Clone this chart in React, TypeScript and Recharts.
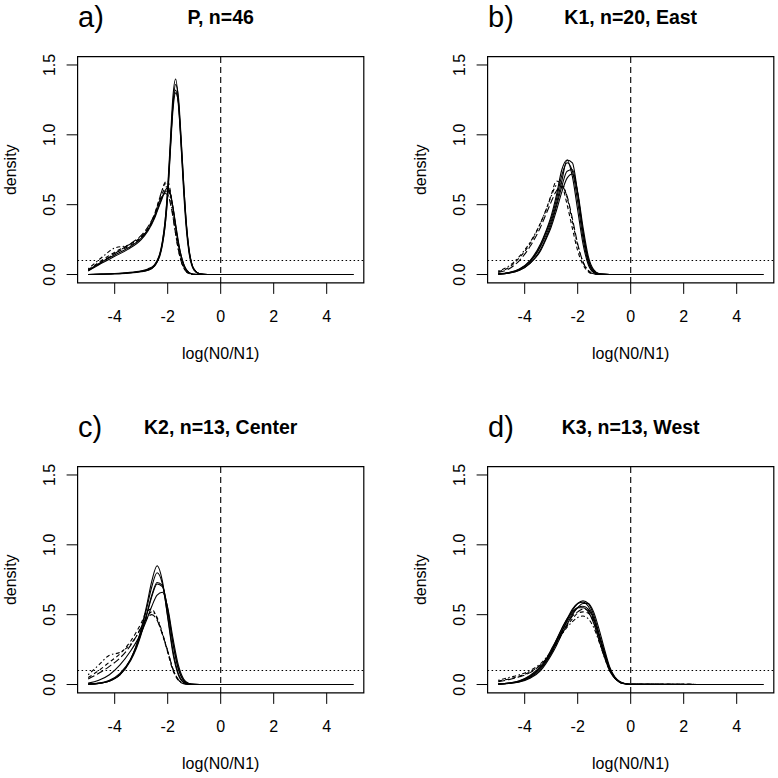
import {
  LineChart,
  Line,
  XAxis,
  YAxis,
  ReferenceLine,
  ReferenceArea,
} from "recharts";

// x grids (log(N0/N1)) -- finer grid for panel a because of the sharp peak
const xsA = [-5, -4.5, -4, -3.5, -3, -2.75, -2.5, -2.4, -2.3, -2.2, -2.1, -2.0, -1.9, -1.8, -1.7, -1.6, -1.5, -1.4, -1.3, -1.2, -1.1, -1.0, -0.8, -0.5, 0, 5];
const xsG = [-5, -4.6, -4.2, -3.8, -3.4, -3.2, -3.0, -2.8, -2.6, -2.4, -2.2, -2.0, -1.8, -1.6, -1.4, -1.2, -1.0, -0.8, -0.6, -0.4, -0.2, 0, 5];

// panel a: P, n=46
const aT1 = [0, 0.002, 0.005, 0.01, 0.02, 0.03, 0.06, 0.09, 0.14, 0.23, 0.38, 0.62, 0.96, 1.28, 1.4, 1.25, 0.94, 0.6, 0.33, 0.16, 0.07, 0.03, 0.005, 0, 0, 0];
const aT2 = [0, 0.003, 0.006, 0.012, 0.024, 0.035, 0.065, 0.095, 0.14, 0.22, 0.35, 0.57, 0.9, 1.22, 1.36, 1.28, 1.0, 0.66, 0.37, 0.18, 0.08, 0.035, 0.006, 0, 0, 0];
const aT3 = [0, 0.003, 0.007, 0.014, 0.027, 0.04, 0.07, 0.1, 0.15, 0.24, 0.38, 0.6, 0.92, 1.22, 1.32, 1.22, 0.95, 0.63, 0.36, 0.18, 0.08, 0.035, 0.006, 0, 0, 0];
const aT4 = [0, 0.002, 0.005, 0.011, 0.022, 0.032, 0.06, 0.09, 0.13, 0.21, 0.34, 0.56, 0.88, 1.18, 1.3, 1.24, 0.98, 0.66, 0.38, 0.19, 0.085, 0.035, 0.006, 0, 0, 0];
const aS1 = [0.03, 0.09, 0.14, 0.19, 0.26, 0.32, 0.41, 0.46, 0.51, 0.56, 0.59, 0.6, 0.57, 0.48, 0.36, 0.24, 0.14, 0.075, 0.035, 0.015, 0.005, 0.002, 0, 0, 0, 0];
const aS2 = [0.025, 0.08, 0.13, 0.18, 0.25, 0.31, 0.4, 0.45, 0.5, 0.55, 0.6, 0.62, 0.58, 0.48, 0.35, 0.23, 0.14, 0.075, 0.035, 0.015, 0.005, 0.002, 0, 0, 0, 0];
const aD1 = [0.035, 0.1, 0.16, 0.21, 0.27, 0.33, 0.43, 0.49, 0.55, 0.61, 0.66, 0.67, 0.6, 0.47, 0.33, 0.21, 0.12, 0.06, 0.025, 0.01, 0.003, 0.001, 0, 0, 0, 0];
const aD2 = [0.04, 0.12, 0.19, 0.21, 0.27, 0.32, 0.42, 0.48, 0.55, 0.61, 0.65, 0.63, 0.55, 0.42, 0.29, 0.18, 0.1, 0.05, 0.02, 0.008, 0.002, 0, 0, 0, 0, 0];
const aD3 = [0.03, 0.09, 0.15, 0.2, 0.26, 0.32, 0.42, 0.47, 0.53, 0.58, 0.62, 0.63, 0.58, 0.47, 0.34, 0.22, 0.13, 0.07, 0.03, 0.012, 0.004, 0.001, 0, 0, 0, 0];
const aD4 = [0.03, 0.085, 0.15, 0.21, 0.28, 0.34, 0.43, 0.48, 0.53, 0.56, 0.58, 0.57, 0.51, 0.41, 0.29, 0.18, 0.1, 0.05, 0.02, 0.008, 0.002, 0, 0, 0, 0, 0];

// panel b: K1, n=20, East
const bS1 = [0.004, 0.012, 0.035, 0.09, 0.2, 0.28, 0.38, 0.51, 0.67, 0.82, 0.8, 0.58, 0.3, 0.1, 0.025, 0.005, 0.001, 0, 0, 0, 0, 0, 0];
const bS2 = [0.005, 0.015, 0.04, 0.1, 0.22, 0.31, 0.42, 0.57, 0.75, 0.82, 0.7, 0.46, 0.22, 0.07, 0.015, 0.003, 0.001, 0, 0, 0, 0, 0, 0];
const bS3 = [0.004, 0.013, 0.037, 0.095, 0.21, 0.3, 0.4, 0.54, 0.71, 0.8, 0.74, 0.52, 0.26, 0.085, 0.02, 0.004, 0.001, 0, 0, 0, 0, 0, 0];
const bS4 = [0.003, 0.01, 0.03, 0.08, 0.18, 0.26, 0.36, 0.49, 0.63, 0.74, 0.75, 0.58, 0.31, 0.11, 0.028, 0.005, 0.001, 0, 0, 0, 0, 0, 0];
const bS5 = [0.003, 0.01, 0.03, 0.08, 0.17, 0.25, 0.34, 0.46, 0.59, 0.69, 0.72, 0.59, 0.34, 0.13, 0.035, 0.007, 0.001, 0, 0, 0, 0, 0, 0];
const bD1 = [0.02, 0.05, 0.12, 0.22, 0.37, 0.46, 0.57, 0.67, 0.64, 0.5, 0.33, 0.17, 0.07, 0.02, 0.004, 0.001, 0, 0, 0, 0, 0, 0, 0];
const bD2 = [0.025, 0.06, 0.13, 0.23, 0.37, 0.46, 0.56, 0.64, 0.65, 0.55, 0.38, 0.21, 0.09, 0.03, 0.007, 0.001, 0, 0, 0, 0, 0, 0, 0];
const bD3 = [0.015, 0.04, 0.1, 0.2, 0.34, 0.43, 0.52, 0.6, 0.63, 0.56, 0.4, 0.22, 0.09, 0.025, 0.005, 0.001, 0, 0, 0, 0, 0, 0, 0];

// panel c: K2, n=13, Center
const cS1 = [0.003, 0.008, 0.025, 0.07, 0.18, 0.27, 0.4, 0.56, 0.74, 0.85, 0.74, 0.48, 0.22, 0.07, 0.015, 0.003, 0, 0, 0, 0, 0, 0, 0];
const cS2 = [0.003, 0.008, 0.025, 0.07, 0.18, 0.27, 0.39, 0.54, 0.7, 0.8, 0.72, 0.49, 0.24, 0.08, 0.018, 0.003, 0, 0, 0, 0, 0, 0, 0];
const cS3 = [0.003, 0.01, 0.03, 0.08, 0.18, 0.26, 0.37, 0.5, 0.64, 0.73, 0.71, 0.53, 0.29, 0.11, 0.03, 0.005, 0.001, 0, 0, 0, 0, 0, 0];
const cS4 = [0.002, 0.008, 0.025, 0.07, 0.17, 0.25, 0.36, 0.49, 0.63, 0.72, 0.7, 0.54, 0.3, 0.12, 0.03, 0.006, 0.001, 0, 0, 0, 0, 0, 0];
const cS5 = [0.01, 0.03, 0.07, 0.14, 0.24, 0.3, 0.37, 0.46, 0.56, 0.64, 0.66, 0.55, 0.33, 0.14, 0.04, 0.008, 0.001, 0, 0, 0, 0, 0, 0];
const cD1 = [0.05, 0.1, 0.16, 0.22, 0.31, 0.37, 0.44, 0.52, 0.54, 0.47, 0.36, 0.23, 0.1, 0.03, 0.006, 0.001, 0, 0, 0, 0, 0, 0, 0];
const cD2 = [0.07, 0.14, 0.21, 0.23, 0.29, 0.34, 0.41, 0.48, 0.52, 0.48, 0.37, 0.24, 0.11, 0.035, 0.008, 0.001, 0, 0, 0, 0, 0, 0, 0];
const cD3 = [0.04, 0.08, 0.13, 0.19, 0.28, 0.34, 0.41, 0.47, 0.5, 0.46, 0.36, 0.24, 0.11, 0.035, 0.008, 0.001, 0, 0, 0, 0, 0, 0, 0];

// panel d: K3, n=13, West
const dS1 = [0.003, 0.008, 0.02, 0.05, 0.11, 0.16, 0.22, 0.3, 0.38, 0.46, 0.53, 0.58, 0.6, 0.58, 0.5, 0.37, 0.24, 0.12, 0.05, 0.018, 0.006, 0.002, 0];
const dS2 = [0.003, 0.007, 0.018, 0.045, 0.1, 0.15, 0.21, 0.28, 0.36, 0.43, 0.5, 0.55, 0.58, 0.58, 0.52, 0.4, 0.26, 0.13, 0.055, 0.02, 0.006, 0.002, 0];
const dS3 = [0.004, 0.01, 0.025, 0.06, 0.12, 0.17, 0.23, 0.31, 0.38, 0.45, 0.51, 0.55, 0.56, 0.54, 0.47, 0.35, 0.23, 0.115, 0.05, 0.017, 0.005, 0.002, 0];
const dS4 = [0.004, 0.01, 0.027, 0.065, 0.13, 0.18, 0.25, 0.32, 0.4, 0.47, 0.52, 0.55, 0.55, 0.52, 0.44, 0.32, 0.2, 0.1, 0.045, 0.015, 0.005, 0.002, 0];
const dS5 = [0.003, 0.009, 0.022, 0.055, 0.12, 0.17, 0.24, 0.32, 0.4, 0.47, 0.54, 0.58, 0.59, 0.56, 0.48, 0.35, 0.22, 0.11, 0.045, 0.015, 0.005, 0.001, 0];
const dD1 = [0.025, 0.04, 0.06, 0.09, 0.14, 0.18, 0.23, 0.29, 0.36, 0.42, 0.47, 0.51, 0.52, 0.51, 0.45, 0.34, 0.22, 0.11, 0.045, 0.016, 0.005, 0.002, 0];
const dD2 = [0.03, 0.05, 0.07, 0.1, 0.15, 0.19, 0.24, 0.3, 0.36, 0.41, 0.45, 0.48, 0.49, 0.47, 0.41, 0.31, 0.2, 0.1, 0.045, 0.015, 0.005, 0.002, 0];
const dD3 = [0.02, 0.035, 0.055, 0.085, 0.14, 0.18, 0.23, 0.3, 0.37, 0.43, 0.49, 0.52, 0.54, 0.53, 0.46, 0.35, 0.22, 0.11, 0.048, 0.016, 0.005, 0.002, 0];

const xTicks = [-4, -2, 0, 2, 4];
const yTicks = [0, 0.5, 1, 1.5];

const SOLID = undefined;
const DASHED = "4 3";
const DOTDASH = "1.5 2.5 4 2.5";
const LONGDASH = "7 3";

const FONT = "'Liberation Sans', Arial, Helvetica, sans-serif";

// geometry (px) inside one panel
const SIZE = 368.5;
const STEP = 409.5;
const BOX_L = 77.6;
const BOX_R = 363.8;
const BOX_T = 56.6;
const BOX_B = 282.9;
const YAXIS_W = 60;
const XAXIS_H = 40;

interface Curve {
  values: number[];
  dash?: string;
}

interface PanelProps {
  letter: string;
  title: string;
  xs: number[];
  curves: Curve[];
  left: number;
  top: number;
}

const XTick = (props: any) => (
  <text
    x={props.x}
    y={BOX_B + 39.5}
    textAnchor="middle"
    fontSize={16}
    fontFamily={FONT}
    fill="#000"
  >
    {String(props.payload.value)}
  </text>
);

const YTick = (props: any) => {
  const x = BOX_L - 22.6;
  return (
    <text
      x={x}
      y={props.y}
      transform={`rotate(-90, ${x}, ${props.y})`}
      textAnchor="middle"
      fontSize={16}
      fontFamily={FONT}
      fill="#000"
    >
      {Number(props.payload.value).toFixed(1)}
    </text>
  );
};

const Panel = ({ letter, title, xs, curves, left, top }: PanelProps) => {
  const data = xs.map((x, i) => {
    const row: { [key: string]: number } = { x };
    curves.forEach((c, j) => {
      row["c" + j] = c.values[i];
    });
    return row;
  });
  const cx = (BOX_L + BOX_R) / 2;
  const cy = (BOX_T + BOX_B) / 2;

  return (
    <div style={{ position: "absolute", left, top, width: SIZE, height: SIZE }}>
      <LineChart
        width={SIZE}
        height={SIZE}
        data={data}
        margin={{
          top: BOX_T,
          left: BOX_L - YAXIS_W,
          right: SIZE - BOX_R,
          bottom: SIZE - BOX_B - XAXIS_H,
        }}
      >
        <XAxis
          dataKey="x"
          type="number"
          domain={[-5.4, 5.4]}
          ticks={xTicks}
          interval={0}
          height={XAXIS_H}
          axisLine={false}
          tickSize={11}
          tickLine={{ stroke: "#000", strokeWidth: 1 }}
          tick={<XTick />}
        />
        <YAxis
          type="number"
          domain={[-0.06, 1.56]}
          ticks={yTicks}
          interval={0}
          width={YAXIS_W}
          axisLine={false}
          tickSize={11}
          tickLine={{ stroke: "#000", strokeWidth: 1 }}
          tick={<YTick />}
        />
        <ReferenceArea
          x1={-5.4}
          x2={5.4}
          y1={-0.06}
          y2={1.56}
          fill="none"
          stroke="#000"
          strokeWidth={1.2}
        />
        <ReferenceLine x={0} stroke="#000" strokeWidth={1.1} strokeDasharray="6 4" />
        <ReferenceLine y={0.1} stroke="#000" strokeWidth={1.1} strokeDasharray="1.5 2.5" />
        {curves.map((c, j) => (
          <Line
            key={j}
            dataKey={"c" + j}
            type="monotone"
            stroke="#000"
            strokeWidth={1.1}
            strokeDasharray={c.dash}
            dot={false}
            activeDot={false}
            isAnimationActive={false}
          />
        ))}
      </LineChart>
      <svg
        width={SIZE}
        height={SIZE}
        style={{ position: "absolute", left: 0, top: 0, pointerEvents: "none" }}
        fontFamily={FONT}
      >
        <text x={78} y={26.7} fontSize={29}>
          {letter}
        </text>
        <text x={cx} y={24} fontSize={19.5} fontWeight="bold" textAnchor="middle">
          {title}
        </text>
        <text
          x={16}
          y={cy}
          fontSize={16}
          textAnchor="middle"
          transform={`rotate(-90, 16, ${cy})`}
        >
          density
        </text>
        <text x={cx} y={358.5} fontSize={16} textAnchor="middle">
          log(N0/N1)
        </text>
      </svg>
    </div>
  );
};

const App = () => {
  return (
    <div
      style={{
        position: "absolute",
        left: 0,
        top: 0,
        width: 778,
        height: 778,
        overflow: "hidden",
        background: "#fff",
      }}
    >
      <Panel
        letter="a)"
        title="P, n=46"
        xs={xsA}
        left={0}
        top={0}
        curves={[
          { values: aT1, dash: SOLID },
          { values: aT2, dash: SOLID },
          { values: aT3, dash: SOLID },
          { values: aT4, dash: SOLID },
          { values: aS1, dash: SOLID },
          { values: aS2, dash: SOLID },
          { values: aD1, dash: DASHED },
          { values: aD2, dash: DOTDASH },
          { values: aD3, dash: DASHED },
          { values: aD4, dash: LONGDASH },
        ]}
      />
      <Panel
        letter="b)"
        title="K1, n=20, East"
        xs={xsG}
        left={STEP}
        top={0}
        curves={[
          { values: bS1, dash: SOLID },
          { values: bS2, dash: SOLID },
          { values: bS3, dash: SOLID },
          { values: bS4, dash: SOLID },
          { values: bS5, dash: SOLID },
          { values: bD1, dash: DASHED },
          { values: bD2, dash: DOTDASH },
          { values: bD3, dash: LONGDASH },
        ]}
      />
      <Panel
        letter="c)"
        title="K2, n=13, Center"
        xs={xsG}
        left={0}
        top={STEP}
        curves={[
          { values: cS1, dash: SOLID },
          { values: cS2, dash: SOLID },
          { values: cS3, dash: SOLID },
          { values: cS4, dash: SOLID },
          { values: cS5, dash: SOLID },
          { values: cD1, dash: DASHED },
          { values: cD2, dash: DOTDASH },
          { values: cD3, dash: LONGDASH },
        ]}
      />
      <Panel
        letter="d)"
        title="K3, n=13, West"
        xs={xsG}
        left={STEP}
        top={STEP}
        curves={[
          { values: dS1, dash: SOLID },
          { values: dS2, dash: SOLID },
          { values: dS3, dash: SOLID },
          { values: dS4, dash: SOLID },
          { values: dS5, dash: SOLID },
          { values: dD1, dash: DASHED },
          { values: dD2, dash: DOTDASH },
          { values: dD3, dash: LONGDASH },
        ]}
      />
    </div>
  );
};

export default App;
